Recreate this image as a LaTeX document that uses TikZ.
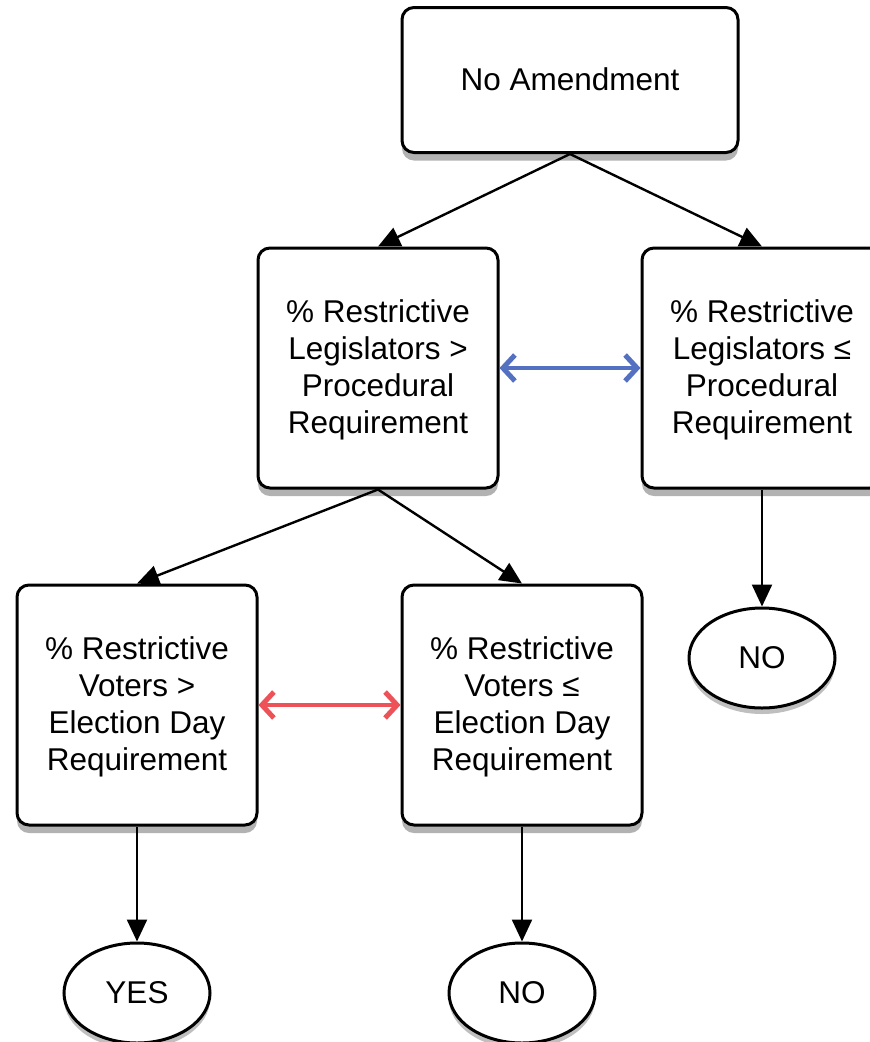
\documentclass[tikz,border=0pt]{standalone}
\usepackage{fontspec}
\setmainfont{Liberation Sans}
\usetikzlibrary{positioning,shapes.geometric,arrows.meta,shadows}

\definecolor{legblue}{RGB}{84,112,192}
\definecolor{votred}{RGB}{236,82,88}

\begin{document}
\begin{tikzpicture}
    [x=1pt,y=1pt,
    %%%%%%%%%%%%%%%%%%%%%%%%%%%%%%
    box/.style={rectangle,draw=black,line width=3pt,rounded corners=12pt,fill=white,
        align=center,font=\fontsize{31.5}{37}\selectfont,text depth=2pt,
        drop shadow={shadow xshift=0pt,shadow yshift=-8pt,opacity=0.3,fill=black}},
    outcome/.style={ellipse,draw=black,line width=3pt,fill=white,
        minimum width=146pt,minimum height=100pt,inner sep=0pt,
        font=\fontsize{31.5}{37}\selectfont,
        drop shadow={shadow xshift=0pt,shadow yshift=-6pt,opacity=0.25,fill=black}},
    flow/.style={-{Triangle[length=22pt,width=20pt]},line width=2.4pt},
    swap/.style={{Straight Barb[length=12pt,width=26pt,line width=5pt]}-{Straight Barb[length=12pt,width=26pt,line width=5pt]},line width=4.5pt},
    ]%%%%%%%%%%%%%%%%%%%%%%%%%%%%%%

    \useasboundingbox (0,0) rectangle (870,-1042);

    % start
    \node[box,minimum width=336pt,minimum height=145pt] at (570,-80) (start) {No Amendment};

    % legislators
    \node[box,minimum width=240pt,minimum height=240pt] at (378,-368) (leg_gt)
        {\% Restrictive\\Legislators >\\Procedural\\Requirement};
    \node[box,minimum width=240pt,minimum height=240pt] at (762,-368) (leg_le)
        {\% Restrictive\\Legislators ≤\\Procedural\\Requirement};
    \draw [flow](start.south) -- (leg_gt.north);
    \draw [flow](start.south) -- (leg_le.north);
    \draw [swap,legblue](leg_gt.east) -- (leg_le.west);

    % voters
    \node[box,minimum width=240pt,minimum height=240pt] at (137,-705) (vot_gt)
        {\% Restrictive\\Voters >\\Election Day\\Requirement};
    \node[box,minimum width=240pt,minimum height=240pt] at (522,-705) (vot_le)
        {\% Restrictive\\Voters ≤\\Election Day\\Requirement};
    \draw [flow](leg_gt.south) -- (vot_gt.north);
    \draw [flow](leg_gt.south) -- (vot_le.north);
    \draw [swap,votred](vot_gt.east) -- (vot_le.west);

    % outcomes
    \node[outcome] at (762,-658) (no_leg) {NO};
    \node[outcome] at (137,-993) (yes) {YES};
    \node[outcome] at (522,-993) (no_vot) {NO};
    \draw [flow](leg_le.south) -- (no_leg.north);
    \draw [flow](vot_gt.south) -- (yes.north);
    \draw [flow](vot_le.south) -- (no_vot.north);

\end{tikzpicture}
\end{document}
